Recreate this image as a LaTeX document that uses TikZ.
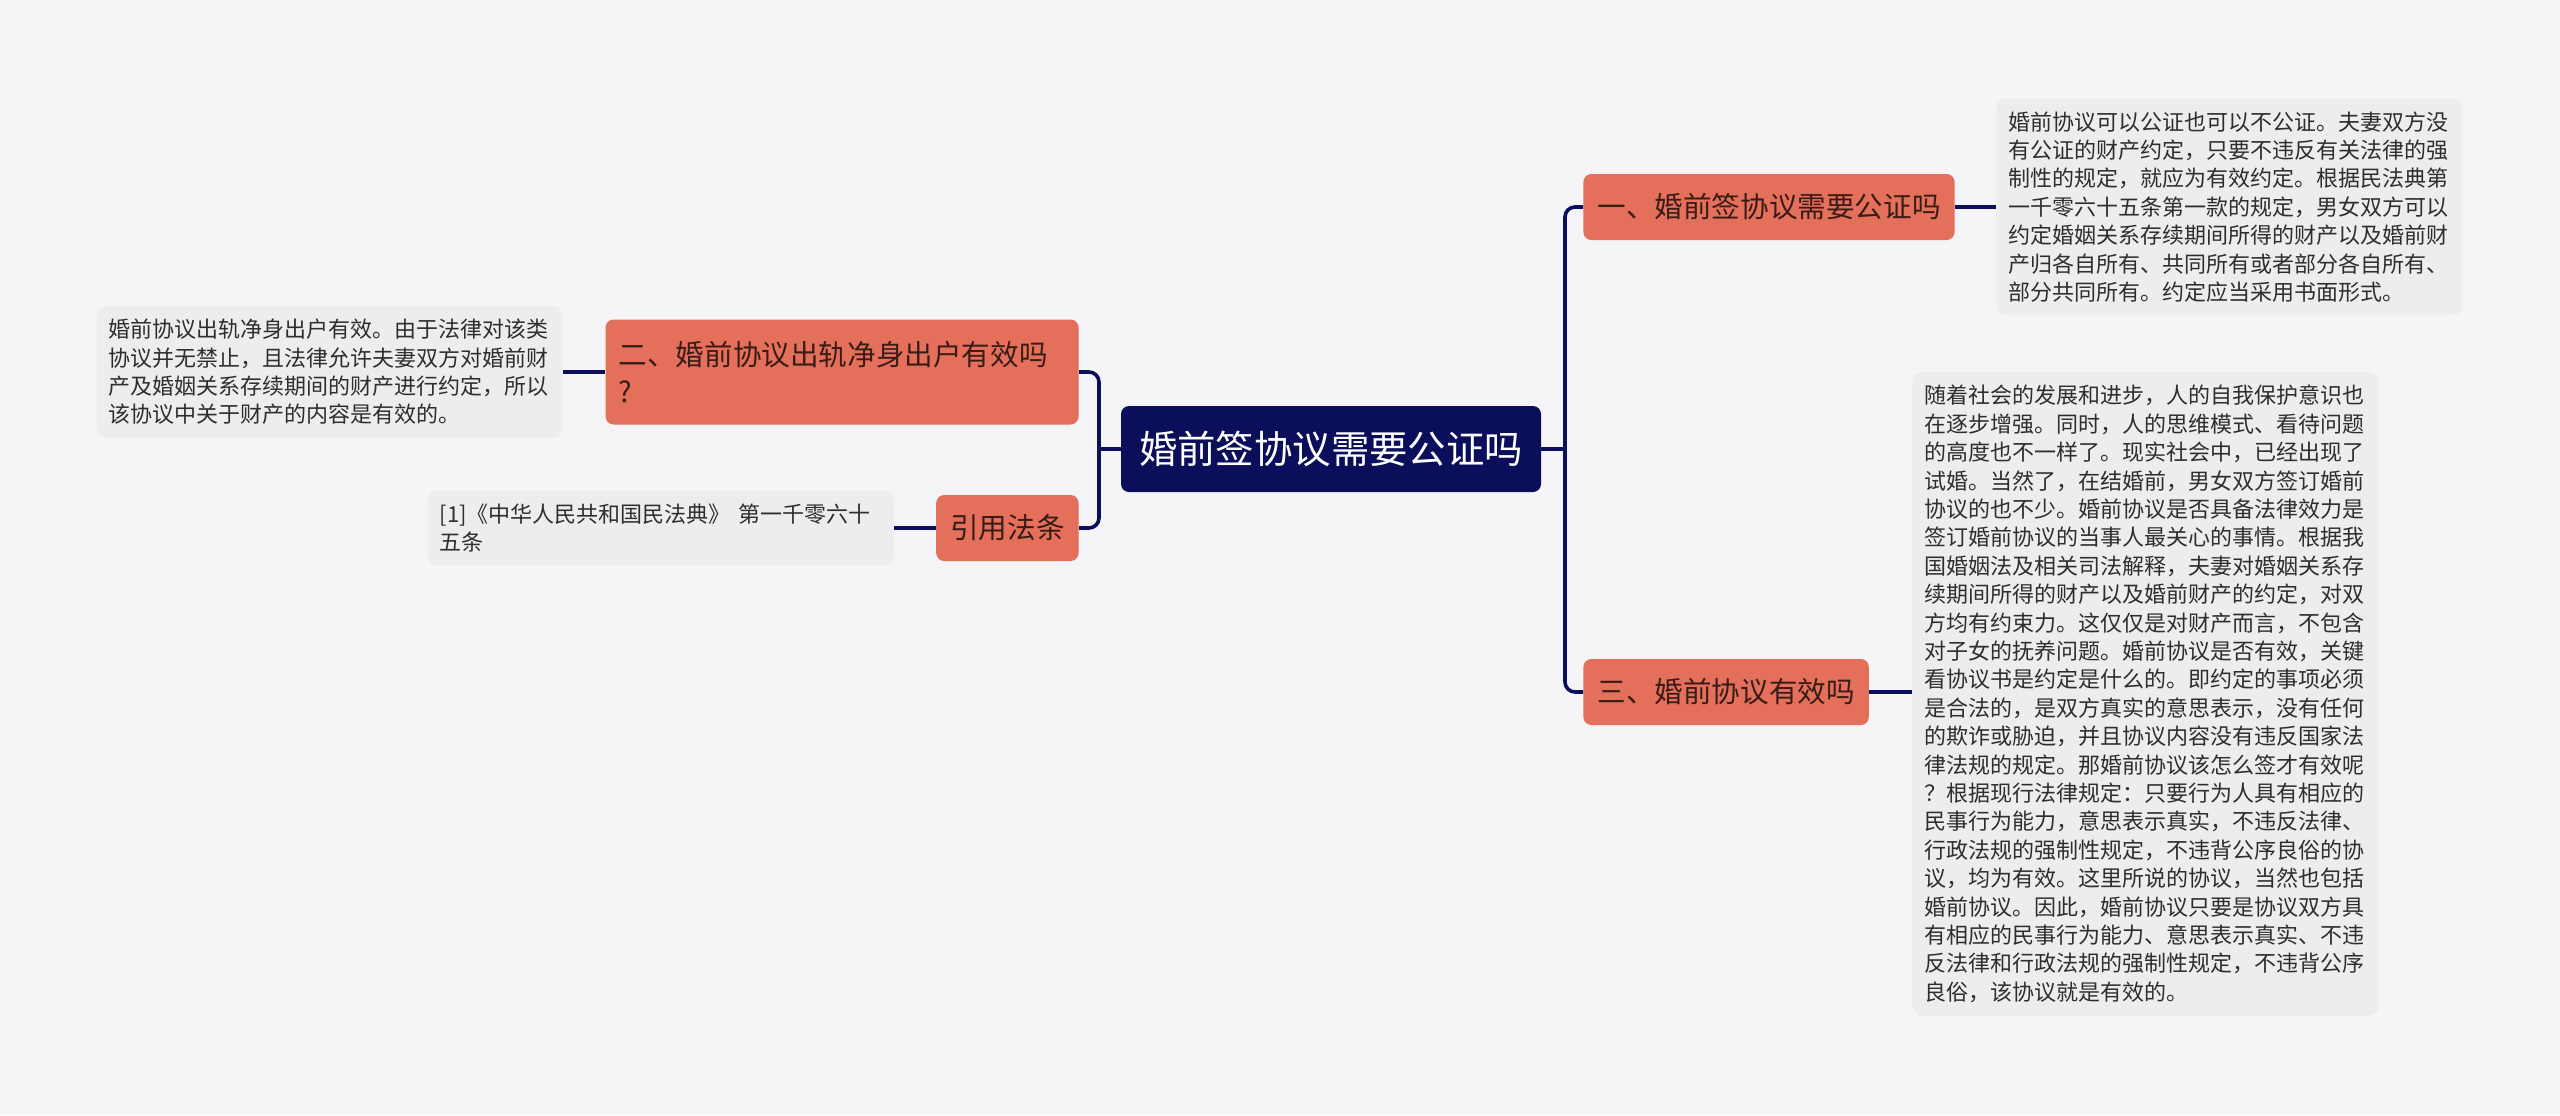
\documentclass[tikz,border=0pt]{standalone}
\usepackage{fontspec}
\setmainfont{Noto Sans CJK SC}
\usetikzlibrary{positioning}
\definecolor{mNavy}{HTML}{0A0E5B}
\definecolor{mOrange}{HTML}{E46F5B}
\definecolor{mBrown}{HTML}{3A1C16}
\definecolor{mBack}{HTML}{F5F5F7}
\definecolor{mLeaf}{HTML}{EDEDEF}
\definecolor{mText}{HTML}{2E2E2E}

\begin{document}
\begin{tikzpicture}[x=0.5pt, y=-0.5pt,
  rootbox/.style={fill=mNavy, text=white, rounded corners=4pt, inner xsep=9pt,
    minimum height=43pt, font=\fontsize{19.2pt}{23pt}\selectfont},
  topic/.style={fill=mOrange, text=mBrown, rounded corners=4pt, inner xsep=7pt,
    minimum height=33pt, font=\fontsize{14.3pt}{18.5pt}\selectfont},
  note/.style={fill=mLeaf, text=mText, rounded corners=5pt, inner xsep=6pt, inner ysep=6.5pt,
    align=left, text width=221pt, font=\fontsize{11pt}{14.2pt}\selectfont},
  link/.style={draw=mNavy, line width=1.8pt, rounded corners=5pt},
]
  \fill[mBack] (0,0) rectangle (2560,1115);
  \useasboundingbox (0,0) rectangle (2560,1115);

  % centre and branches
  \node[rootbox] (root) at (1331,449) {婚前签协议需要公证吗};
  \node[topic, anchor=west] (pub) at (1583,207) {一、婚前签协议需要公证吗};
  \node[topic, anchor=west] (valid) at (1583,692) {三、婚前协议有效吗};
  \node[topic, anchor=east, align=left, text width=223.5pt, inner xsep=6.5pt,
    minimum height=52.5pt] (cheat) at (1079,372) {二、婚前协议出轨净身出户有效吗\\?};
  \node[topic, anchor=east] (law) at (1079,528) {引用法条};

  % notes
  \node[note, anchor=west] (pubnote) at (1996,207)
    {婚前协议可以公证也可以不公证。夫妻双方没\\
     有公证的财产约定，只要不违反有关法律的强\\
     制性的规定，就应为有效约定。根据民法典第\\
     一千零六十五条第一款的规定，男女双方可以\\
     约定婚姻关系存续期间所得的财产以及婚前财\\
     产归各自所有、共同所有或者部分各自所有、\\
     部分共同所有。约定应当采用书面形式。};
  \node[note, anchor=west] (validnote) at (1912,694)
    {随着社会的发展和进步，人的自我保护意识也\\
     在逐步增强。同时，人的思维模式、看待问题\\
     的高度也不一样了。现实社会中，已经出现了\\
     试婚。当然了，在结婚前，男女双方签订婚前\\
     协议的也不少。婚前协议是否具备法律效力是\\
     签订婚前协议的当事人最关心的事情。根据我\\
     国婚姻法及相关司法解释，夫妻对婚姻关系存\\
     续期间所得的财产以及婚前财产的约定，对双\\
     方均有约束力。这仅仅是对财产而言，不包含\\
     对子女的抚养问题。婚前协议是否有效，关键\\
     看协议书是约定是什么的。即约定的事项必须\\
     是合法的，是双方真实的意思表示，没有任何\\
     的欺诈或胁迫，并且协议内容没有违反国家法\\
     律法规的规定。那婚前协议该怎么签才有效呢\\
     ？根据现行法律规定：只要行为人具有相应的\\
     民事行为能力，意思表示真实，不违反法律、\\
     行政法规的强制性规定，不违背公序良俗的协\\
     议，均为有效。这里所说的协议，当然也包括\\
     婚前协议。因此，婚前协议只要是协议双方具\\
     有相应的民事行为能力、意思表示真实、不违\\
     反法律和行政法规的强制性规定，不违背公序\\
     良俗，该协议就是有效的。};
  \node[note, anchor=east] (cheatnote) at (563,372)
    {婚前协议出轨净身出户有效。由于法律对该类\\
     协议并无禁止，且法律允许夫妻双方对婚前财\\
     产及婚姻关系存续期间的财产进行约定，所以\\
     该协议中关于财产的内容是有效的。};
  \node[note, anchor=east] (lawnote) at (894,528)
    {[1]《中华人民共和国民法典》 第一千零六十\\
     五条};

  % connectors
  \coordinate (rbus) at (1565,449);
  \coordinate (lbus) at (1099,449);
  \draw[link] (root.east) -- (rbus);
  \draw[link] (pub.west) -| (rbus);
  \draw[link] (valid.west) -| (rbus);
  \draw[link] (root.west) -- (lbus);
  \draw[link] (cheat.east) -| (lbus);
  \draw[link] (law.east) -| (lbus);
  \draw[link] (pub.east) -- (pubnote.west |- pub.east);
  \draw[link] (valid.east) -- (validnote.west |- valid.east);
  \draw[link] (cheat.west) -- (cheatnote.east |- cheat.west);
  \draw[link] (law.west) -- (lawnote.east |- law.west);
\end{tikzpicture}
\end{document}
